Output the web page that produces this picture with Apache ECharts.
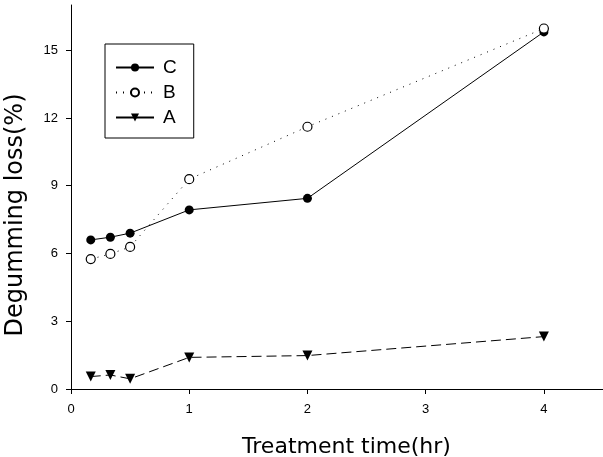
<!DOCTYPE html>
<html><head><meta charset="utf-8">
<script src="https://cdn.jsdelivr.net/npm/echarts@6/dist/echarts.min.js"></script>
<style>html,body{margin:0;padding:0;background:#fff}#c{width:603px;height:457px}</style>
</head><body><div id="c"></div>
<script>
const times = [0.167, 0.333, 0.5, 1, 2, 4];
const seriesC = [6.60, 6.72, 6.90, 7.93, 8.44, 15.81];
const seriesB = [5.75, 5.98, 6.29, 9.29, 11.61, 15.96];
const seriesA = [0.55, 0.62, 0.45, 1.40, 1.48, 2.32];
const xTicks = [0, 1, 2, 3, 4];
const yTicks = [0, 3, 6, 9, 12, 15];

const pairs = v => times.map((t, i) => [t, v[i]]);
const font = 'Liberation Sans';
const chart = echarts.init(document.getElementById('c'));
chart.setOption({
  animation: false,
  backgroundColor: '#fff',
  textStyle: {fontFamily: font, color: '#000'},
  grid: {left: 71, top: 5, right: 0, bottom: 68, containLabel: false, outerBoundsMode: 'none'},
  legend: {
    orient: 'vertical', left: 105, top: 44,
    padding: [14, 17, 11, 10], itemGap: 6,
    borderColor: '#000', borderWidth: 1,
    itemWidth: 38, itemHeight: 10,
    textStyle: {fontSize: 19, color: '#000', fontFamily: font, padding: [0, 0, 0, 4]},
    data: [{name: 'C'}, {name: 'B'}, {name: 'A', lineStyle: {type: 'solid'}}]
  },
  xAxis: [{
    type: 'value', min: 0, max: 4.5, interval: 1,
    name: 'Treatment time(hr)', nameLocation: 'middle', nameGap: 47, nameMoveOverlap: false,
    nameTextStyle: {fontSize: 22, color: '#000', fontFamily: 'DejaVu Sans', padding: [0, 0, 0, 19]},
    axisLine: {show: true, onZero: false, lineStyle: {color: '#000', width: 1}},
    axisTick: {show: true, inside: false, length: 5, customValues: xTicks, lineStyle: {color: '#000'}},
    axisLabel: {customValues: xTicks, fontSize: 13, color: '#000', margin: 14},
    splitLine: {show: false}
  }, {
    type: 'value', position: 'top', min: 0, max: 4.5,
    axisLine: {show: true, lineStyle: {color: '#000', width: 1}},
    axisTick: {show: false}, axisLabel: {show: false}, splitLine: {show: false}
  }],
  yAxis: {
    type: 'value', min: 0, max: 17, interval: 3,
    name: 'Degumming loss(%)', nameLocation: 'middle', nameGap: 43, nameMoveOverlap: false,
    nameTextStyle: {fontSize: 24, color: '#000', fontFamily: 'DejaVu Sans', padding: [0, 36, 0, 0]},
    axisLine: {show: true, onZero: false, lineStyle: {color: '#000', width: 1}},
    axisTick: {show: true, length: 5, customValues: yTicks, lineStyle: {color: '#000'}},
    axisLabel: {customValues: yTicks, fontSize: 13, color: '#000', margin: 13},
    splitLine: {show: false}
  },
  series: [{
    name: 'C', type: 'line', data: pairs(seriesC),
    symbol: 'circle', symbolSize: 9,
    itemStyle: {color: '#000'},
    lineStyle: {color: '#000', width: 1, type: 'solid'}
  }, {
    name: 'B', type: 'line', data: pairs(seriesB),
    symbol: 'circle', symbolSize: 9,
    itemStyle: {color: '#fff', borderColor: '#000', borderWidth: 1.2},
    lineStyle: {color: '#000', width: 1, type: [1, 6]}
  }, {
    name: 'A', type: 'line', data: pairs(seriesA),
    symbol: 'triangle', symbolRotate: 180, symbolSize: 10,
    itemStyle: {color: '#000'},
    lineStyle: {color: '#000', width: 1, type: [10, 5]}
  }]
});
</script></body></html>
